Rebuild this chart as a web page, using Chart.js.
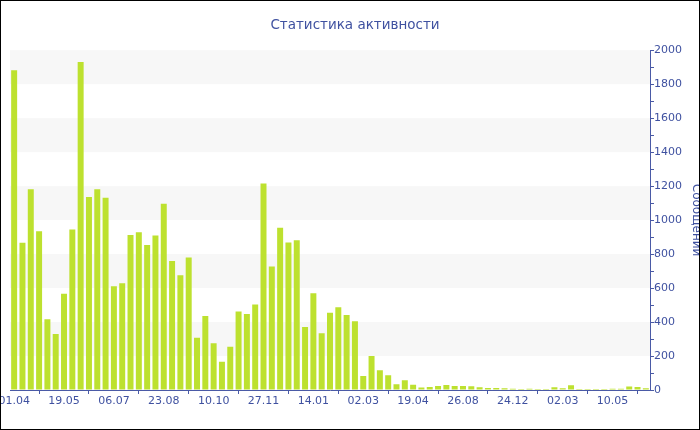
<!DOCTYPE html>
<html>
<head>
<meta charset="utf-8">
<script src="https://cdn.jsdelivr.net/npm/chart.js@4"></script>
<style>
  html, body { margin: 0; padding: 0; background: #fff; }
  #wrap { width: 700px; height: 430px; position: relative; }
  canvas { display: block; }
</style>
</head>
<body>
<div id="wrap"><canvas id="c" width="700" height="430"></canvas></div>
<script>
const chartTitle = 'Статистика активности';
const yAxisTitle = 'Сообщений';
const tickLabels = ['01.04','19.05','06.07','23.08','10.10','27.11','14.01','02.03','19.04','26.08','24.12','02.03','10.05'];
const labelEvery = 6;
const messages = [
  1882, 866, 1181, 935, 417, 330, 566, 945, 1931, 1136,
  1181, 1132, 611, 629, 912, 929, 853, 910, 1096, 760,
  676, 780, 308, 436, 275, 167, 255, 462, 448, 503,
  1216, 727, 955, 868, 882, 371, 570, 334, 454, 487,
  442, 405, 82, 200, 116, 87, 34, 57, 31, 14,
  17, 24, 29, 24, 24, 22, 16, 12, 12, 10,
  8, 6, 7, 6, 6, 16, 10, 28, 6, 6,
  6, 6, 7, 8, 21, 17, 11
];
const yTicks = { min: 0, max: 2000, step: 100, labelStep: 200 };

const categories = messages.map((_, i) => (i % labelEvery === 0 ? tickLabels[i / labelEvery] : ''));

const textColor = '#3f51a0';
const axisColor = '#4a5aa6';
const barColor = '#bde12f';
const bandColor = '#f7f7f7';
const fontFamily = '"DejaVu Sans", Verdana, sans-serif';

const bandsPlugin = {
  id: 'bands',
  beforeDatasetsDraw(chart) {
    const { ctx, chartArea } = chart;
    const y = chart.scales.y;
    ctx.save();
    ctx.fillStyle = bandColor;
    for (let v = yTicks.labelStep; v < yTicks.max; v += 2 * yTicks.labelStep) {
      const top = y.getPixelForValue(v + yTicks.labelStep);
      const bot = y.getPixelForValue(v);
      ctx.fillRect(chartArea.left, top, chartArea.right - chartArea.left, bot - top);
    }
    ctx.restore();
  }
};

const borderPlugin = {
  id: 'frame',
  afterDraw(chart) {
    const { ctx, width, height } = chart;
    ctx.save();
    ctx.strokeStyle = '#000';
    ctx.lineWidth = 1;
    ctx.strokeRect(0.5, 0.5, width - 1, height - 1);
    ctx.restore();
  }
};

new Chart(document.getElementById('c'), {
  type: 'bar',
  data: {
    labels: categories,
    datasets: [{
      data: messages,
      backgroundColor: barColor,
      borderWidth: 0,
      categoryPercentage: 1,
      barPercentage: 0.72
    }]
  },
  options: {
    responsive: false,
    animation: false,
    events: [],
    layout: { padding: { left: 10, right: 0, top: 0, bottom: 20 } },
    plugins: {
      legend: { display: false },
      tooltip: { enabled: false },
      title: {
        display: true,
        text: chartTitle,
        color: textColor,
        font: { family: fontFamily, size: 13.5, weight: 'normal' },
        padding: { top: 17, bottom: 17 }
      }
    },
    scales: {
      x: {
        type: 'category',
        offset: true,
        afterFit(s) { s.paddingLeft = 0; s.paddingRight = 0; s.height = 20; },
        border: { display: true, color: axisColor, width: 1 },
        grid: { display: true, drawOnChartArea: false, drawTicks: true, tickLength: 4, color: axisColor },
        ticks: {
          autoSkip: false,
          maxRotation: 0,
          minRotation: 0,
          padding: 1,
          color: textColor,
          font: { family: fontFamily, size: 11 },
          callback(val) { return categories[val] ? categories[val] : null; }
        }
      },
      y: {
        position: 'right',
        min: yTicks.min,
        max: yTicks.max,
        afterFit(s) { s.width = 50; s.paddingTop = 0; s.paddingBottom = 0; },
        border: { display: true, color: axisColor, width: 1 },
        grid: { display: true, drawOnChartArea: false, drawTicks: true, tickLength: 4, color: axisColor },
        ticks: {
          stepSize: yTicks.step,
          padding: 0,
          color: textColor,
          font: { family: fontFamily, size: 11 },
          callback(v) { return v % yTicks.labelStep === 0 ? String(v) : ''; }
        },
        title: {
          display: true,
          text: yAxisTitle,
          color: textColor,
          font: { family: fontFamily, size: 12, weight: 'normal' },
          padding: { top: -3, bottom: 0 }
        }
      }
    }
  },
  plugins: [bandsPlugin, borderPlugin]
});
</script>
</body>
</html>
